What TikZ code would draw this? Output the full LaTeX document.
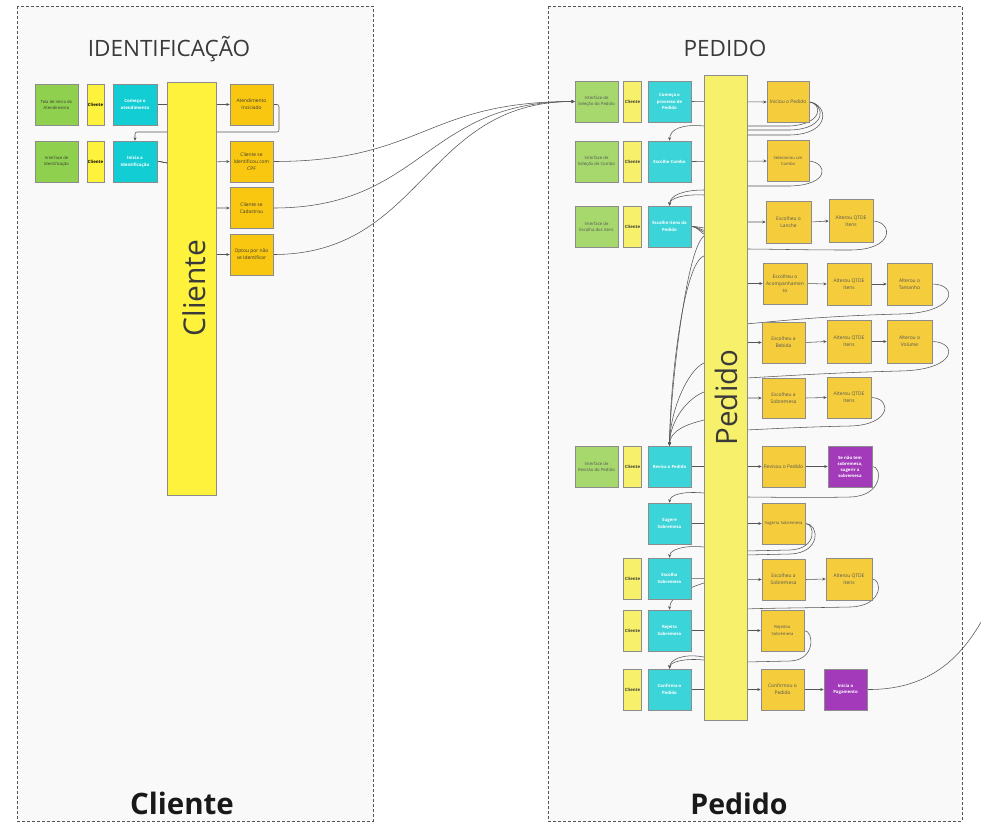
\documentclass[tikz,border=0pt]{standalone}
\usepackage{fontspec}
\setmainfont{Open Sans}
\usetikzlibrary{arrows.meta}
\pgfdeclarelayer{panel}
\pgfdeclarelayer{wires}
\pgfsetlayers{panel,wires,main}
\definecolor{bordc}{HTML}{8C8C8C}
\definecolor{wirec}{HTML}{555555}
\definecolor{panelc}{HTML}{F9F9F9}
\definecolor{grnA}{HTML}{8FD14F}
\definecolor{grnB}{HTML}{A6D86E}
\definecolor{ylwA}{HTML}{FEF23C}
\definecolor{ylwB}{HTML}{F7F06A}
\definecolor{cyaA}{HTML}{12CDD4}
\definecolor{cyaB}{HTML}{3BD4D8}
\definecolor{orgA}{HTML}{FAC710}
\definecolor{orgB}{HTML}{F5CD3C}
\definecolor{purc}{HTML}{A23ABA}
\definecolor{txtd}{HTML}{3A3A3A}
\definecolor{txtm}{HTML}{555555}
\newcommand\fsz[2]{\fontsize{#1}{#2}\selectfont}
\tikzset{
  box/.style={draw=bordc, line width=0.6pt, inner sep=0pt, align=center,
    minimum width=43pt, minimum height=41pt},
  gA/.style={box, fill=grnA, text=txtd, font=\fsz{4.2}{6}},
  gB/.style={box, fill=grnB, text=txtm, font=\fsz{4.3}{6}},
  yA/.style={box, fill=ylwA, text=black, minimum width=17pt, font=\bfseries\fsz{4.3}{6}},
  yB/.style={box, fill=ylwB, text=txtd, minimum width=18pt, font=\bfseries\fsz{4.3}{6}},
  cA/.style={box, fill=cyaA, text=white, minimum width=44pt, font=\bfseries\fsz{4.4}{6.7}},
  cB/.style={box, fill=cyaB, text=white, font=\bfseries\fsz{4.3}{6.3}},
  oA/.style={box, fill=orgA, text=txtd, font=\fsz{4.9}{7.2}},
  oB/.style={box, fill=orgB, text=txtm, font=\fsz{4.9}{6.8}},
  oBs/.style={oB, font=\fsz{4.2}{6.2}},
  pu/.style={box, fill=purc, text=white, font=\bfseries\fsz{4.3}{6}},
  barA/.style={box, fill=ylwA, minimum width=49pt, minimum height=413pt},
  barB/.style={box, fill=ylwB, minimum width=43pt, minimum height=645pt},
  bartxt/.style={rotate=90, anchor=base, inner sep=0pt, text=txtd},
  ttl/.style={anchor=base, inner sep=0pt, text=txtd, font=\fsz{22.5}{27}},
  foot/.style={anchor=base, inner sep=0pt, text=black!90, font=\bfseries\fsz{29.5}{35}},
  wire/.style={draw=wirec, line width=0.55pt},
  arr/.style={wire, -{Stealth[length=3.4pt,width=3pt]}},
  panelbox/.style={draw=wirec, fill=panelc, line width=0.8pt, dash pattern=on 3pt off 2pt}
}
\begin{document}
\begin{tikzpicture}[x=1pt,y=-1pt]
\useasboundingbox (0,0) rectangle (981,831);
\begin{pgfonlayer}{panel}
  \fill[white] (0,0) rectangle (981,831);
  \draw[panelbox] (17,6) rectangle (373,821);
  \draw[panelbox] (548,6) rectangle (962,821);
\end{pgfonlayer}

% titles
\node[ttl] (tIdent) at (169,56) {IDENTIFICAÇÃO};
\node[ttl] (tPed) at (725,56) {PEDIDO};
\node[foot] (fCli) at (182,814) {Cliente};
\node[foot, font=\bfseries\fsz{28.5}{34}] (fPed) at (739,814) {Pedido};

% ---------- left panel ----------
\node[gA] (tela) at (56.5,104.5) {Tela de Inicio do\\Atendimento};
\node[yA] (cli1) at (95.5,104.5) {Cliente};
\node[cA] (comeca) at (135,104.5) {Começa o\\atendimento};
\node[gA] (iface) at (56.5,161.5) {Interface de\\Identificação};
\node[yA] (cli2) at (95.5,161.5) {Cliente};
\node[cA] (inicia) at (135,161.5) {Inicia a\\Identificação};
\node[barA] (clibar) at (191.5,288.5) {};
\node[bartxt, font=\fsz{30}{36}] (clibarT) at (205,288) {Cliente};
\node[oA] (atend) at (251.5,104.5) {Atendimento\\Inciciado};
\node[oA] (cpf) at (251.5,161.5) {Cliente se\\Identificou com\\CPF};
\node[oA] (cadastro) at (251.5,208) {Cliente se\\Cadastrou};
\node[oA] (optou) at (251.5,254.5) {Optou por não\\se Identificar};

% ---------- right panel ----------
\node[gB] (selPed) at (596.5,101.5) {Interface de\\Seleção do Pedido};
\node[yB] (cliP1) at (632.5,101.5) {Cliente};
\node[cB] (comecaP) at (669.5,101.5) {Começa o\\processo de\\Pedido};
\node[gB] (selCombo) at (596.5,161.5) {Interface de\\Seleção de Combo};
\node[yB] (cliP2) at (632.5,161.5) {Cliente};
\node[cB] (escCombo) at (669.5,161.5) {Escolhe Combo};
\node[gB] (escItensI) at (596.5,226.5) {Interface de\\Escolha dos itens};
\node[yB] (cliP3) at (632.5,226.5) {Cliente};
\node[cB] (escItens) at (669.5,226.5) {Escolhe Itens do\\Pedido};
\node[gB] (revI) at (596.5,466.5) {Interface de\\Revisão do Pedido};
\node[yB] (cliP4) at (632.5,466.5) {Cliente};
\node[cB] (revisa) at (669.5,466.5) {Revisa o Pedido};
\node[cB] (sugere) at (669.5,523.5) {Sugere\\Sobremesa};
\node[yB] (cliP5) at (632.5,578.5) {Cliente};
\node[cB] (escolhaS) at (669.5,578.5) {Escolha\\Sobremesa};
\node[yB] (cliP6) at (632.5,630.5) {Cliente};
\node[cB] (rejeita) at (669.5,630.5) {Rejeita\\Sobremesa};
\node[yB] (cliP7) at (632.5,689.5) {Cliente};
\node[cB] (confirma) at (669.5,689.5) {Confirma o\\Pedido};

\node[barB] (pedbar) at (725.5,397.5) {};
\node[bartxt, font=\fsz{29.5}{35}] (pedbarT) at (737,397.5) {Pedido};

\node[oB, minimum width=42pt] (iniciou) at (788,102) {Iniciou o Pedido};
\node[oBs, minimum width=42pt] (selecionou) at (788,161) {Selecionou um\\Combo};
\node[oB, minimum width=45pt, minimum height=42pt] (lanche) at (788.5,222) {Escolheu o\\Lanche};
\node[oB, minimum width=44pt, minimum height=43pt] (qtde1) at (851,221) {Alterou QTDE\\Itens};
\node[oB, minimum width=44pt] (acomp) at (785,283.5) {Escolheu o\\Acompanhamen\\to};
\node[oB, minimum width=44pt, minimum height=42pt] (qtde2) at (849,284) {Alterou QTDE\\Itens};
\node[oB, minimum width=45pt, minimum height=42pt] (tamanho) at (909.5,284) {Alterou o\\Tamanho};
\node[oB] (bebida) at (783.5,342.5) {Escolheu a\\Bebida};
\node[oB, minimum width=44pt, minimum height=43pt] (qtde3) at (849,341.5) {Alterou QTDE\\Itens};
\node[oB, minimum width=45pt, minimum height=43pt] (volume) at (909.5,341.5) {Alterou o\\Volume};
\node[oB, minimum height=40pt] (sobrem) at (783.5,398) {Escolheu a\\Sobremesa};
\node[oB, minimum width=44pt] (qtde4) at (849,397.5) {Alterou QTDE\\Itens};
\node[oB] (revisou) at (783.5,466.5) {Revisou o Pedido};
\node[pu, minimum width=44pt] (senao) at (850,466.5) {Se não tem\\sobremesa,\\sugerir a\\sobremesa};
\node[oBs] (sugeriu) at (783.5,523.5) {Sugeriu Sobremesa};
\node[oB] (escolheu2) at (783.5,579.5) {Escolheu a\\Sobremesa};
\node[oB, minimum width=46pt, minimum height=42pt] (qtde5) at (849,579) {Alterou QTDE\\Itens};
\node[oBs] (rejeitou) at (782.5,630.5) {Rejeitou\\Sobremesa};
\node[oB] (confirmou) at (782.5,689.5) {Confirmou o\\Pedido};
\node[pu] (pagamento) at (845.5,689.5) {Inicia o\\Pagamento};
\coordinate (pagEnd) at (981,622);

% ---------- connectors ----------
\begin{pgfonlayer}{wires}
% left panel
\draw[arr] (comeca.east) -- (atend.west);
\draw[arr, rounded corners=2pt] (atend.east) -- (279,104.5) -- (279,132) -- (135,132) -- (inicia.north);
\draw[arr] (inicia.east) .. controls (163,161.5) and (164,163) .. (168,163) -- (cpf.west);
\draw[arr] (inicia.east) .. controls (163,161.5) and (164,163) .. (168,163) -- (200,208) -- (cadastro.west);
\draw[arr] (inicia.east) .. controls (163,161.5) and (164,163) .. (168,163) -- (200,254.5) -- (optou.west);
% between panels
\draw[arr] (cpf.east) .. controls +(150,0) and +(-150,0) .. (selPed.west);
\draw[arr] (cadastro.east) .. controls +(150,0) and +(-150,0) .. (selPed.west);
\draw[arr] (optou.east) .. controls +(150,0) and +(-150,0) .. (selPed.west);
% right panel
\draw[arr] (comecaP.east) -- (iniciou.west);
\draw[arr] (iniciou.east) .. controls (822,103) and (824,124) .. (790,126) -- (704,126) .. controls (682,124) and (670,129) .. (escCombo.north);
\draw[arr] (iniciou.east) .. controls (825,104) and (828,129) .. (790,130) -- (740,130) -- (710,195) -- (704,195) .. controls (684,194) and (670,198) .. (escItens.north);
\draw[arr] (iniciou.east) .. controls (828,104) and (832,134) .. (790,135) -- (740,135) -- (710,236) -- (704,236) .. controls (685,250) and (670,400) .. (revisa.north);
\draw[arr] (escCombo.east) -- (selecionou.west);
\draw[arr] (selecionou.east) .. controls (828,163) and (830,185) .. (790,186) -- (740,186) -- (710,190) -- (704,190) .. controls (684,190) and (670,195) .. (escItens.north);
\draw[arr] (escItens.east) .. controls (699,226.5) and (701,228) .. (706,228) -- (740,222) -- (lanche.west);
\draw[arr] (escItens.east) .. controls (699,227) and (701,230) .. (706,231) -- (740,283.5) -- (acomp.west);
\draw[arr] (escItens.east) .. controls (699,227) and (701,232) .. (706,233) -- (740,342.5) -- (bebida.west);
\draw[arr] (escItens.east) .. controls (699,227) and (701,234) .. (706,235) -- (740,398) -- (sobrem.west);
\draw[arr] (lanche.east) -- (qtde1.west);
\draw[arr] (acomp.east) -- (qtde2.west);
\draw[arr] (qtde2.east) -- (tamanho.west);
\draw[arr] (bebida.east) -- (qtde3.west);
\draw[arr] (qtde3.east) -- (volume.west);
\draw[arr] (sobrem.east) -- (qtde4.west);
\draw[arr] (qtde1.east) .. controls (893,222) and (895,250) .. (850,250) .. controls (800,250) and (770,249) .. (745,249) -- (710,256) -- (704,256) .. controls (684,262) and (670,380) .. (revisa.north);
\draw[arr] (tamanho.east) .. controls (958,284) and (958,313) .. (900,314) .. controls (820,316) and (770,322) .. (745,324) -- (710,363) -- (704,363) .. controls (688,370) and (670,410) .. (revisa.north);
\draw[arr] (volume.east) .. controls (958,342) and (958,370) .. (900,371) .. controls (820,373) and (770,377) .. (745,378) -- (710,392) -- (704,392) .. controls (688,398) and (670,420) .. (revisa.north);
\draw[arr] (qtde4.east) .. controls (892,398) and (892,425) .. (850,426) .. controls (800,427) and (770,429) .. (745,430) -- (710,420) -- (704,420) .. controls (688,424) and (670,430) .. (revisa.north);
\draw[arr] (revisa.east) -- (revisou.west);
\draw[arr] (revisou.east) -- (senao.west);
\draw[arr] (senao.east) .. controls (882,466) and (884,496) .. (850,497) .. controls (800,498) and (770,497) .. (745,497) -- (710,493) -- (704,493) .. controls (682,491) and (670,495) .. (sugere.north);
\draw[arr] (sugere.east) -- (sugeriu.west);
\draw[arr] (sugeriu.east) .. controls (815,523) and (818,549) .. (790,550) -- (745,551) -- (710,547) -- (704,547) .. controls (682,545) and (670,550) .. (escolhaS.north);
\draw[arr] (sugeriu.east) .. controls (819,523) and (822,553) .. (790,554) -- (745,555) -- (710,583) -- (704,583) .. controls (688,588) and (670,596) .. (rejeita.north);
\draw[arr] (escolhaS.east) -- (escolheu2.west);
\draw[arr] (escolheu2.east) -- (qtde5.west);
\draw[arr] (qtde5.east) .. controls (882,579) and (884,606) .. (850,607) .. controls (800,608) and (770,608) .. (745,609) -- (710,657) -- (704,657) .. controls (682,653) and (670,660) .. (confirma.north);
\draw[arr] (rejeita.east) -- (rejeitou.west);
\draw[arr] (rejeitou.east) .. controls (814,631) and (816,660) .. (790,661) -- (745,662) -- (710,660) -- (704,660) .. controls (684,658) and (670,662) .. (confirma.north);
\draw[arr] (confirma.east) -- (confirmou.west);
\draw[arr] (confirmou.east) -- (pagamento.west);
\draw[wire] (pagamento.east) .. controls (925,690) and (958,662) .. (pagEnd);
\end{pgfonlayer}
\end{tikzpicture}
\end{document}
